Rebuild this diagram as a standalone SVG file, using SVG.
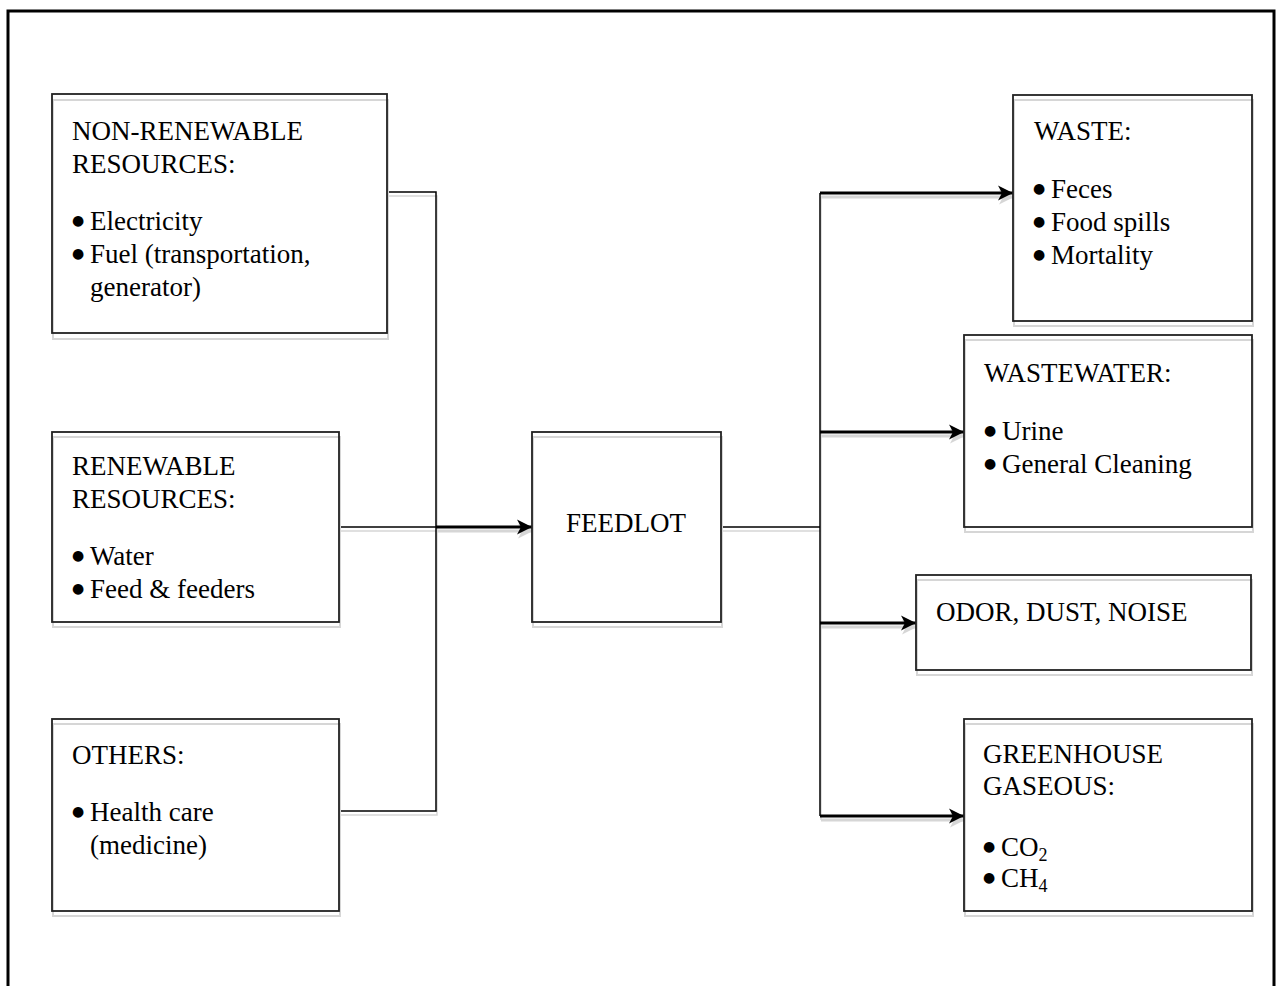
<svg xmlns="http://www.w3.org/2000/svg" width="1282" height="986" viewBox="0 0 1282 986">
<style>
  .box { fill: none; stroke: #222; stroke-width: 1.8; }
  .shadowbox { fill: none; stroke: #d6d6d6; stroke-width: 2; }
  .t { font-family: "Liberation Serif", "Times New Roman", serif; font-size: 27px; fill: #000; }
  .b { font-family: "DejaVu Sans", sans-serif; font-size: 14px; }
  .line { fill: none; stroke: #000; stroke-width: 1.5; }
  .arrow { fill: none; stroke: #000; stroke-width: 3; marker-end: url(#ah); }
  .sline { fill: none; stroke: #d6d6d6; stroke-width: 1.5; }
  .sarrow { fill: none; stroke: #d6d6d6; stroke-width: 3; marker-end: url(#ahs); }
</style>
<defs>
  <marker id="ah" markerUnits="userSpaceOnUse" markerWidth="16" markerHeight="16" refX="15" refY="7.5" orient="auto" overflow="visible">
    <path d="M0,0 L15,7.5 L0,15 L4,7.5 Z" fill="#000"/>
  </marker>
  <marker id="ahs" markerUnits="userSpaceOnUse" markerWidth="16" markerHeight="16" refX="15" refY="7.5" orient="auto" overflow="visible">
    <path d="M0,0 L15,7.5 L0,15 L4,7.5 Z" fill="#d6d6d6"/>
  </marker>
</defs>
<rect width="1282" height="986" fill="#fff"/>
<path d="M8,986 V11 H1274 V986" fill="none" stroke="#000" stroke-width="3"/>

<g id="connectors">
  <g transform="translate(1,4)">
    <path class="sline" d="M387,192 H436 V811 H339"/>
    <path class="sline" d="M339,527 H436"/>
    <path class="sarrow" d="M436,527 H532"/>
    <path class="sline" d="M721,527 H820"/>
    <path class="sline" d="M820,193 V816"/>
    <path class="sarrow" d="M820,193 H1013"/>
    <path class="sarrow" d="M820,432 H964"/>
    <path class="sarrow" d="M820,623 H916"/>
    <path class="sarrow" d="M820,816 H964"/>
  </g>
  <path class="line" d="M387,192 H436 V811 H339"/>
  <path class="line" d="M339,527 H436"/>
  <path class="arrow" d="M436,527 H532"/>
  <path class="line" d="M721,527 H820"/>
  <path class="line" d="M820,193 V816"/>
  <path class="arrow" d="M820,193 H1013"/>
  <path class="arrow" d="M820,432 H964"/>
  <path class="arrow" d="M820,623 H916"/>
  <path class="arrow" d="M820,816 H964"/>
</g>

<g id="non-renewable">
  <rect class="shadowbox" x="53" y="100" width="335" height="239"/>
  <rect class="box" x="52" y="94" width="335" height="239"/>
  <text class="t"><tspan x="72" y="140">NON-RENEWABLE</tspan><tspan x="72" y="173">RESOURCES:</tspan><tspan class="b" x="72" y="225">●</tspan><tspan x="90" y="230">Electricity</tspan><tspan class="b" x="72" y="258">●</tspan><tspan x="90" y="263">Fuel (transportation,</tspan><tspan x="90" y="296">generator)</tspan></text>
</g>

<g id="renewable">
  <rect class="shadowbox" x="53" y="437" width="287" height="190"/>
  <rect class="box" x="52" y="432" width="287" height="190"/>
  <text class="t"><tspan x="72" y="475">RENEWABLE</tspan><tspan x="72" y="508">RESOURCES:</tspan><tspan class="b" x="72" y="560">●</tspan><tspan x="90" y="565">Water</tspan><tspan class="b" x="72" y="593">●</tspan><tspan x="90" y="598">Feed &amp; feeders</tspan></text>
</g>

<g id="others">
  <rect class="shadowbox" x="53" y="724" width="287" height="192"/>
  <rect class="box" x="52" y="719" width="287" height="192"/>
  <text class="t"><tspan x="72" y="764">OTHERS:</tspan><tspan class="b" x="72" y="816">●</tspan><tspan x="90" y="821">Health care</tspan><tspan x="90" y="854">(medicine)</tspan></text>
</g>

<g id="feedlot">
  <rect class="shadowbox" x="533" y="437" width="189" height="190"/>
  <rect class="box" x="532" y="432" width="189" height="190"/>
  <text class="t" x="626" y="532" text-anchor="middle">FEEDLOT</text>
</g>

<g id="waste">
  <rect class="shadowbox" x="1014" y="100" width="239" height="226"/>
  <rect class="box" x="1013" y="95" width="239" height="226"/>
  <text class="t"><tspan x="1034" y="140">WASTE:</tspan><tspan class="b" x="1033" y="193">●</tspan><tspan x="1051" y="198">Feces</tspan><tspan class="b" x="1033" y="226">●</tspan><tspan x="1051" y="231">Food spills</tspan><tspan class="b" x="1033" y="259">●</tspan><tspan x="1051" y="264">Mortality</tspan></text>
</g>

<g id="wastewater">
  <rect class="shadowbox" x="965" y="340" width="288" height="192"/>
  <rect class="box" x="964" y="335" width="288" height="192"/>
  <text class="t"><tspan x="984" y="382">WASTEWATER:</tspan><tspan class="b" x="984" y="435">●</tspan><tspan x="1002" y="440">Urine</tspan><tspan class="b" x="984" y="468">●</tspan><tspan x="1002" y="473">General Cleaning</tspan></text>
</g>

<g id="odor">
  <rect class="shadowbox" x="917" y="580" width="335" height="95"/>
  <rect class="box" x="916" y="575" width="335" height="95"/>
  <text class="t" x="936" y="621">ODOR, DUST, NOISE</text>
</g>

<g id="greenhouse">
  <rect class="shadowbox" x="965" y="724" width="288" height="192"/>
  <rect class="box" x="964" y="719" width="288" height="192"/>
  <text class="t"><tspan x="983" y="763">GREENHOUSE</tspan><tspan x="983" y="795">GASEOUS:</tspan><tspan class="b" x="983" y="851">●</tspan><tspan x="1001" y="856">CO</tspan><tspan font-size="18" dy="5">2</tspan><tspan class="b" x="983" y="882">●</tspan><tspan x="1001" y="887">CH</tspan><tspan font-size="18" dy="5">4</tspan></text>
</g>
</svg>
